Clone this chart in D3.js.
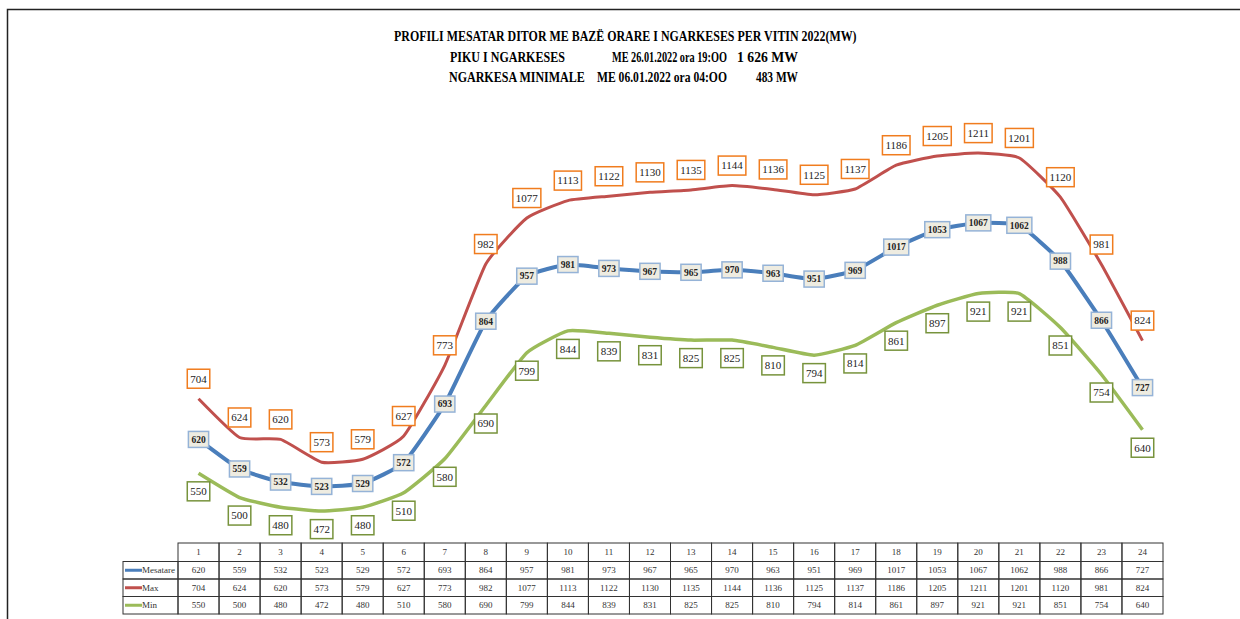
<!DOCTYPE html>
<html>
<head>
<meta charset="utf-8">
<script src="https://cdn.jsdelivr.net/npm/d3@7"></script>
<style>
	body { margin: 0; background: #fff; }
	svg { display: block; font-family: 'Liberation Serif', 'Times New Roman', serif; }
</style>
</head>
<body>
<svg id="chart" width="1240" height="619"></svg>
<script>
const hours = d3.range(1, 25);
const mesatare = [620, 559, 532, 523, 529, 572, 693, 864, 957, 981, 973, 967, 965, 970, 963, 951, 969, 1017, 1053, 1067, 1062, 988, 866, 727];
const maxValues = [704, 624, 620, 573, 579, 627, 773, 982, 1077, 1113, 1122, 1130, 1135, 1144, 1136, 1125, 1137, 1186, 1205, 1211, 1201, 1120, 981, 824];
const minValues = [550, 500, 480, 472, 480, 510, 580, 690, 799, 844, 839, 831, 825, 825, 810, 794, 814, 861, 897, 921, 921, 851, 754, 640];

const titleLines = [
	[{text: 'PROFILI MESATAR DITOR ME BAZË ORARE I NGARKESES PER VITIN 2022(MW)', x: 394, w: 463}],
	[{text: 'PIKU I NGARKESES', x: 450, w: 115}, {text: 'ME 26.01.2022 ora 19:OO', x: 612, w: 115}, {text: '1 626 MW', x: 737, w: 61}],
	[{text: 'NGARKESA MINIMALE', x: 449, w: 136}, {text: 'ME 06.01.2022 ora 04:OO', x: 597, w: 130}, {text: '483 MW', x: 756, w: 42}]
];

const series = [
	{name: 'Mesatare', values: mesatare, color: '#4a7ebb', width: 4, box: '#95b3d7', fill: '#eeece1', dy: 0, size: 9.5},
	{name: 'Max', values: maxValues, color: '#c0504d', width: 3, box: '#f07c1e', fill: '#fff', dy: -20, size: 11},
	{name: 'Min', values: minValues, color: '#9bbb59', width: 3.5, box: '#77933c', fill: '#fff', dy: 18, size: 11}
];

const svg = d3.select('#chart');

const x = d3.scaleBand().domain(hours).range([178, 1163]).padding(0);
const cx = h => x(h) + x.bandwidth() / 2;
const y = d3.scaleLinear().domain([400, 1300]).range([546, 110]);

// frame
svg.append('path')
	.attr('d', 'M7.5,619 V9.5 H1240')
	.attr('fill', 'none')
	.attr('stroke', '#222')
	.attr('stroke-width', 1.5);

// title, squeezed horizontally like the original narrow font
titleLines.forEach((line, i) => {
	line.forEach(part => {
		const t = svg.append('text')
			.attr('font-size', 15)
			.attr('font-weight', 'bold')
			.text(part.text);
		const len = t.node().getComputedTextLength();
		t.attr('transform', `translate(${part.x},${41 + i * 20.5}) scale(${part.w / len},1)`);
	});
});

// lines
const line = d3.line()
	.x((d, i) => cx(hours[i]))
	.y(d => y(d))
	.curve(d3.curveCardinal.tension(0.55));

series.slice().reverse().forEach(s => {
	svg.append('path')
		.attr('d', line(s.values))
		.attr('fill', 'none')
		.attr('stroke', s.color)
		.attr('stroke-width', s.width)
		.attr('stroke-linejoin', 'round');
});

// data labels
series.forEach(s => {
	const g = svg.append('g');
	s.values.forEach((v, i) => {
		const lg = g.append('g')
			.attr('transform', `translate(${cx(hours[i])},${y(v) + s.dy})`);
		const rect = lg.append('rect');
		const t = lg.append('text')
			.attr('text-anchor', 'middle')
			.attr('dy', '0.35em')
			.attr('font-size', s.size)
			.attr('font-weight', s.name === 'Mesatare' ? 'bold' : 'normal')
			.attr('fill', '#222')
			.text(v);
		const w = t.node().getComputedTextLength() + 6,
			h = s.name === 'Mesatare' ? 16 : 19;
		rect.attr('x', -w / 2).attr('y', -h / 2)
			.attr('width', w).attr('height', h)
			.attr('fill', s.fill)
			.attr('stroke', s.box)
			.attr('stroke-width', 1.5);
	});
});

// data table
const rowTop = 543, rowH = [18.5, 17.5, 17.5, 17.5];
const rowY = [rowTop];
rowH.forEach(h => rowY.push(rowY[rowY.length - 1] + h));
const table = svg.append('g')
	.attr('font-size', 9)
	.attr('fill', '#333');

// header row
hours.forEach(h => {
	table.append('rect')
		.attr('x', x(h)).attr('y', rowY[0])
		.attr('width', x.bandwidth()).attr('height', rowH[0])
		.attr('fill', 'none').attr('stroke', '#333').attr('stroke-width', 1);
	table.append('text')
		.attr('x', cx(h)).attr('y', rowY[0] + rowH[0] / 2)
		.attr('dy', '0.35em').attr('text-anchor', 'middle')
		.text(h);
});

series.forEach((s, r) => {
	const top = rowY[r + 1], h = rowH[r + 1];
	table.append('rect')
		.attr('x', 123).attr('y', top)
		.attr('width', 178 - 123).attr('height', h)
		.attr('fill', 'none').attr('stroke', '#333').attr('stroke-width', 1);
	table.append('line')
		.attr('x1', 125).attr('x2', 142)
		.attr('y1', top + h / 2).attr('y2', top + h / 2)
		.attr('stroke', s.color).attr('stroke-width', 3);
	table.append('text')
		.attr('x', 142).attr('y', top + h / 2)
		.attr('dy', '0.35em')
		.text(s.name);
	s.values.forEach((v, i) => {
		table.append('rect')
			.attr('x', x(hours[i])).attr('y', top)
			.attr('width', x.bandwidth()).attr('height', h)
			.attr('fill', 'none').attr('stroke', '#333').attr('stroke-width', 1);
		table.append('text')
			.attr('x', cx(hours[i])).attr('y', top + h / 2)
			.attr('dy', '0.35em').attr('text-anchor', 'middle')
			.text(v);
	});
});
</script>
</body>
</html>
